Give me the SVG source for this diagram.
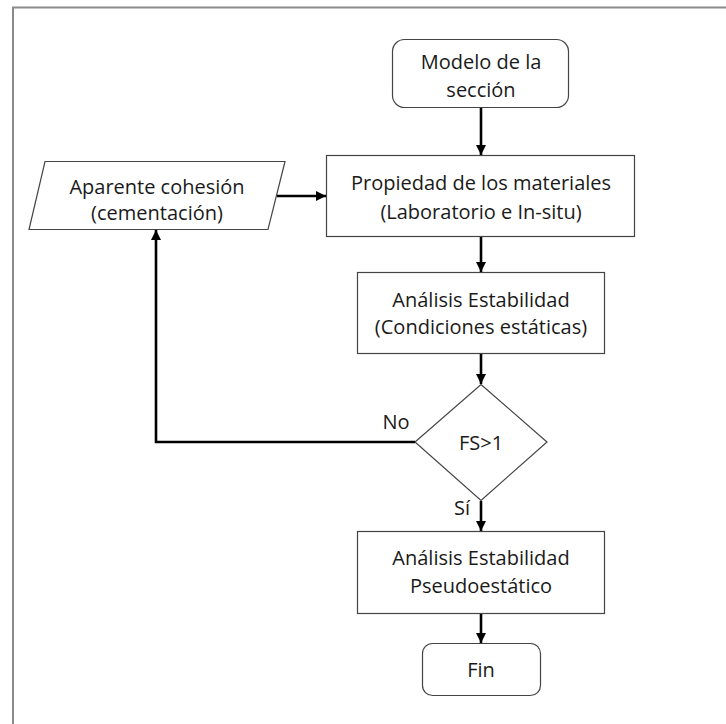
<svg xmlns="http://www.w3.org/2000/svg" width="726" height="724" viewBox="0 0 726 724">
<defs>
<style>
.node{fill:#fff;stroke:#444;stroke-width:1.2}
.t{font-family:"Open Sans","Noto Sans",sans-serif;font-size:20px;fill:#1a1a1a;text-anchor:middle;dominant-baseline:central}
.c{fill:none;stroke:#000;stroke-width:2.6}
</style>
<marker id="ah" viewBox="0 0 10 10" refX="10" refY="5" markerWidth="4" markerHeight="4" orient="auto" markerUnits="strokeWidth">
<path d="M0,0 L10,5 L0,10 z" fill="#000"/>
</marker>
</defs>
<rect x="0" y="0" width="726" height="724" fill="#fff"/>
<path d="M13,724 V7.5 H726" fill="none" stroke="#8a8a8a" stroke-width="2"/>
<g id="modelo">
<rect class="node" x="392.5" y="39.5" width="176" height="68" rx="12"/>
<text class="t" x="481" y="61">Modelo de la</text>
<text class="t" x="481" y="89">sección</text>
</g>
<g id="propiedad">
<rect class="node" x="326.5" y="155.5" width="308" height="81"/>
<text class="t" x="481" y="182">Propiedad de los materiales</text>
<text class="t" x="481" y="211">(Laboratorio e In-situ)</text>
</g>
<g id="aparente">
<polygon class="node" points="45,161.5 285,161.5 268,229.5 29,229.5"/>
<text class="t" x="157" y="186">Aparente cohesión</text>
<text class="t" x="157" y="212">(cementación)</text>
</g>
<g id="analisis">
<rect class="node" x="357.5" y="272.5" width="247" height="81"/>
<text class="t" x="481" y="299">Análisis Estabilidad</text>
<text class="t" x="481" y="326">(Condiciones estáticas)</text>
</g>
<g id="decision">
<polygon class="node" points="481,384.5 547,442 481,500.5 415,442"/>
<text class="t" x="481" y="442">FS&gt;1</text>
</g>
<g id="pseudo">
<rect class="node" x="357.5" y="531.5" width="247" height="82"/>
<text class="t" x="481" y="557">Análisis Estabilidad</text>
<text class="t" x="481" y="585">Pseudoestático</text>
</g>
<g id="fin">
<rect class="node" x="422.5" y="643.5" width="118" height="52" rx="10"/>
<text class="t" x="481" y="669">Fin</text>
</g>
<g id="connectors">
<line class="c" x1="481" y1="108" x2="481" y2="155" marker-end="url(#ah)"/>
<line class="c" x1="277" y1="196" x2="326" y2="196" marker-end="url(#ah)"/>
<line class="c" x1="481" y1="237" x2="481" y2="272" marker-end="url(#ah)"/>
<line class="c" x1="481" y1="354" x2="481" y2="384" marker-end="url(#ah)"/>
<polyline class="c" points="415,442 156,442 156,230" marker-end="url(#ah)"/>
<line class="c" x1="481" y1="501" x2="481" y2="531" marker-end="url(#ah)"/>
<line class="c" x1="481" y1="614" x2="481" y2="643" marker-end="url(#ah)"/>
<text class="t" x="396" y="421">No</text>
<text class="t" x="462" y="507">Sí</text>
</g>
</svg>
